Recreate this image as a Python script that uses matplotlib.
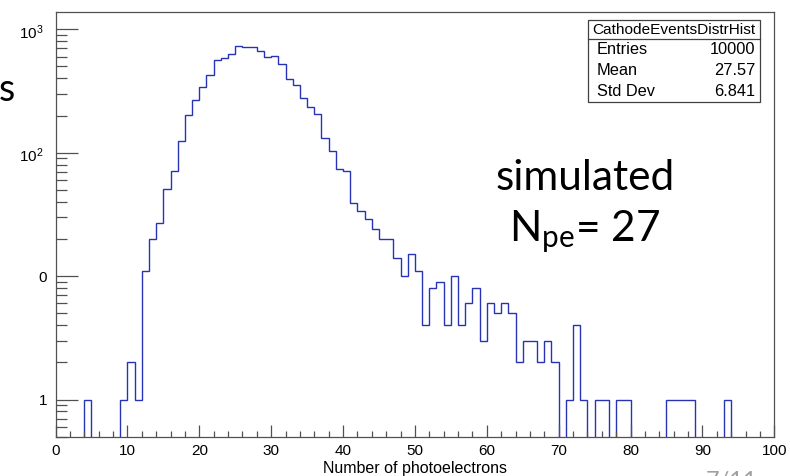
import numpy as np
import matplotlib
matplotlib.use("Agg")
import matplotlib.pyplot as plt
from matplotlib.patches import Rectangle
from matplotlib.lines import Line2D
import matplotlib.transforms as mtransforms
from matplotlib.ticker import FixedLocator, LogLocator, MultipleLocator, NullFormatter

# ---------------- data ----------------
x_min, x_max, n_bins = 0, 100, 100
counts = [
    0, 0, 0, 0, 1, 0, 0, 0, 0, 1,            # 0-9
    2, 1, 11, 20, 27, 51, 71, 124, 202, 269,  # 10-19
    340, 426, 559, 580, 634, 731, 717, 716, 670, 599,  # 20-29
    610, 523, 397, 355, 275, 234, 207, 131, 104, 74,   # 30-39
    71, 39, 34, 29, 24, 20, 20, 14, 10, 15,   # 40-49
    11, 4, 8, 9, 4, 10, 4, 6, 8, 3,           # 50-59
    6, 5, 6, 5, 2, 3, 3, 2, 3, 2,             # 60-69
    0, 1, 4, 1, 0, 1, 1, 0, 1, 1,             # 70-79
    0, 0, 0, 0, 0, 1, 1, 1, 1, 0,             # 80-89
    0, 0, 0, 1, 0, 0, 0, 0, 0, 0,             # 90-99
]
y_ticks = [1, 10, 100, 1000]
y_tick_labels = ["1", "0", r"$\mathregular{10^{2}}$", r"$\mathregular{10^{3}}$"]
x_ticks = [0, 10, 20, 30, 40, 50, 60, 70, 80, 90, 100]
x_tick_labels = [str(v) for v in x_ticks]
x_label = "Number of photoelectrons"
stats_title = "CathodeEventsDistrHist"
stats_labels = ["Entries", "Mean", "Std Dev"]
stats_values = ["10000", "27.57", "6.841"]
annot_line1 = "simulated"
annot_line2 = r"N$_{\mathregular{pe}}$= 27"

# ---------------- figure ----------------
plt.rcParams["font.family"] = ["Liberation Sans", "DejaVu Sans"]
plt.rcParams["mathtext.fontset"] = "custom"
plt.rcParams["mathtext.rm"] = "Liberation Sans"

W, H = 790, 476
fig = plt.figure(figsize=(W / 100, H / 100), dpi=100)
ax_l, ax_r, ax_t, ax_b = 55.5, 774.3, 12.3, 437.3
ax = fig.add_axes([ax_l / W, 1 - ax_b / H, (ax_r - ax_l) / W, (ax_b - ax_t) / H])

edges = np.linspace(x_min, x_max, n_bins + 1)
vals = np.asarray(counts, dtype=float)
plot_vals = np.where(vals > 0, vals, 1e-3)
ax.stairs(plot_vals, edges, baseline=None, color="#2733b4", linewidth=1.0)

ax.set_yscale("log")
ax.set_xlim(x_min, x_max)
ax.set_ylim(0.494, 1373)

spine_col = "#505050"
for s in ax.spines.values():
    s.set_color(spine_col)
    s.set_linewidth(0.9)

ax.yaxis.set_major_locator(FixedLocator(y_ticks))
ax.set_yticklabels(y_tick_labels)
ax.yaxis.set_minor_locator(LogLocator(base=10, subs=np.arange(2, 10)))
ax.yaxis.set_minor_formatter(NullFormatter())
ax.xaxis.set_major_locator(FixedLocator(x_ticks))
ax.set_xticklabels(x_tick_labels)
ax.xaxis.set_minor_locator(MultipleLocator(2))

ax.tick_params(axis="y", which="major", direction="in", length=15.8, width=0.9,
               color=spine_col, labelsize=11, pad=6, left=True, right=False)
ax.tick_params(axis="y", which="minor", direction="in", length=7.9, width=0.9,
               color=spine_col, left=True, right=False)
ax.tick_params(axis="x", which="major", direction="in", length=8.6, width=0.9,
               color=spine_col, labelsize=11, pad=4.5, bottom=True, top=False)
ax.tick_params(axis="x", which="minor", direction="in", length=4.3, width=0.9,
               color=spine_col, bottom=True, top=False)

# shift the power-of-ten labels slightly left like ROOT does
for lab in ax.get_yticklabels():
    if "10^" in lab.get_text():
        off = mtransforms.ScaledTranslation(-3.5 / 100, -1.5 / 100, fig.dpi_scale_trans)
        lab.set_transform(lab.get_transform() + off)

xl = ax.set_xlabel(x_label, fontsize=11.5)
xl.set_verticalalignment("bottom")
ax.xaxis.set_label_coords(0.5, (ax_b - 475.5) / (ax_b - ax_t))

# ---------------- stats box ----------------
bx0, bx1 = 0.741, 0.980
by0, by1 = 0.789, 0.982
bsep = 0.937
ax.add_patch(Rectangle((bx0, by0), bx1 - bx0, by1 - by0, transform=ax.transAxes,
                       facecolor="white", edgecolor="#404040", linewidth=0.9, zorder=5))
ax.add_line(Line2D([bx0, bx1], [bsep, bsep], transform=ax.transAxes,
                   color="#404040", linewidth=0.9, zorder=6))
ax.text((bx0 + bx1) / 2, (by1 + bsep) / 2, stats_title, transform=ax.transAxes,
        ha="center", va="center", fontsize=11.1, zorder=7)
row_h = (bsep - by0) / len(stats_labels)
for i, (lab, val) in enumerate(zip(stats_labels, stats_values)):
    yc = bsep - row_h * (i + 0.5)
    ax.text(0.7533, yc, lab, transform=ax.transAxes, ha="left", va="center",
            fontsize=11.8, zorder=7)
    ax.text(0.9732, yc, val, transform=ax.transAxes, ha="right", va="center",
            fontsize=11.8, zorder=7)

# ---------------- slide annotations ----------------
fig.text(585 / W, 1 - 190 / H, annot_line1, ha="center", va="baseline",
         fontsize=30.5, family=["Lato", "DejaVu Sans"])
fig.text(585 / W, 1 - 241 / H, annot_line2, ha="center", va="baseline",
         fontsize=30.5, family=["Lato", "DejaVu Sans"])
fig.text(15 / W, 1 - 101 / H, "s", ha="right", va="baseline",
         fontsize=27, family=["Lato", "DejaVu Sans"])
fig.text(732 / W, 1 - 471 / H, "7/11", ha="center", va="top",
         fontsize=17, color="#a0a0a0", family=["Lato", "DejaVu Sans"])

fig.savefig("out.png", dpi=100, facecolor="white")
